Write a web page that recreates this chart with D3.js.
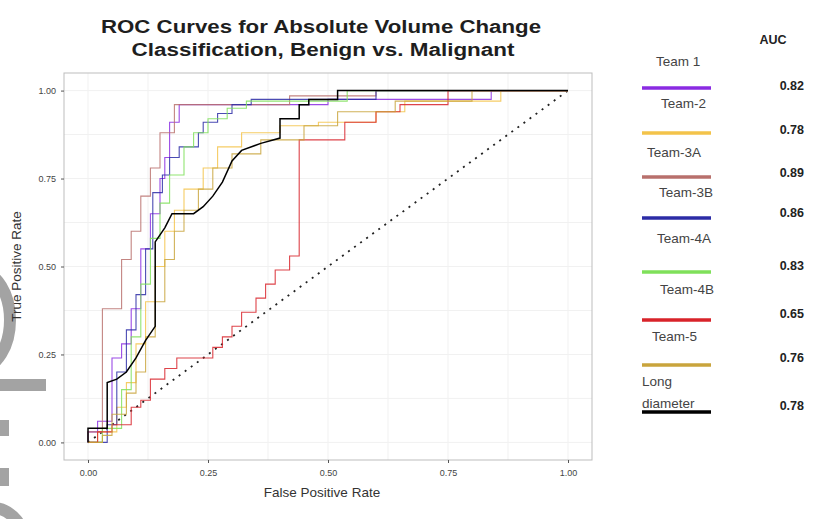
<!DOCTYPE html>
<html>
<head>
<meta charset="utf-8">
<script src="https://cdn.jsdelivr.net/npm/d3@7"></script>
<style>
  body { margin: 0; background: #fff; }
  svg { display: block; font-family: "Liberation Sans", Arial, sans-serif; }
</style>
</head>
<body>
<svg width="817" height="519"></svg>
<script>
// ---- data ----
var seriesNames = ['Team 1', 'Team-2', 'Team-3A', 'Team-3B', 'Team-4A', 'Team-4B', 'Team-5', 'Long diameter'];
var aucValues = ['0.82', '0.78', '0.89', '0.86', '0.83', '0.65', '0.76', '0.78'];
var xTicks = [0, 0.25, 0.5, 0.75, 1];
var yTicks = [0, 0.25, 0.5, 0.75, 1];

var team1 = [[0,0],[0,0.03],[0.02,0.03],[0.02,0.06],[0.05,0.06],[0.05,0.24],[0.07,0.24],[0.07,0.28],[0.09,0.28],[0.09,0.38],[0.11,0.38],[0.11,0.55],[0.13,0.55],[0.13,0.65],[0.15,0.65],[0.15,0.75],[0.16,0.75],[0.16,0.81],[0.17,0.81],[0.17,0.91],[0.19,0.91],[0.19,0.96],[0.5,0.96],[0.5,0.975],[0.84,0.975],[0.84,1],[1,1]];
var team2 = [[0,0],[0.02,0],[0.02,0.03],[0.06,0.03],[0.06,0.1],[0.08,0.1],[0.08,0.17],[0.1,0.17],[0.1,0.28],[0.12,0.28],[0.12,0.4],[0.14,0.4],[0.14,0.5],[0.16,0.5],[0.16,0.6],[0.18,0.6],[0.18,0.66],[0.2,0.66],[0.2,0.72],[0.24,0.72],[0.24,0.78],[0.27,0.78],[0.27,0.84],[0.32,0.84],[0.32,0.88],[0.4,0.88],[0.4,0.9],[0.48,0.9],[0.48,0.91],[0.6,0.91],[0.6,0.94],[0.66,0.94],[0.66,0.97],[0.86,0.97],[0.86,1],[1,1]];
var team3A = [[0,0],[0,0.03],[0.03,0.03],[0.03,0.38],[0.07,0.38],[0.07,0.52],[0.09,0.52],[0.09,0.6],[0.11,0.6],[0.11,0.7],[0.13,0.7],[0.13,0.78],[0.15,0.78],[0.15,0.88],[0.18,0.88],[0.18,0.96],[0.42,0.96],[0.42,0.985],[0.6,0.985],[0.6,1],[1,1]];
var team3B = [[0,0],[0.04,0],[0.04,0.05],[0.06,0.05],[0.06,0.2],[0.08,0.2],[0.08,0.32],[0.1,0.32],[0.1,0.42],[0.12,0.42],[0.12,0.55],[0.135,0.55],[0.135,0.71],[0.155,0.71],[0.155,0.76],[0.17,0.76],[0.17,0.81],[0.19,0.81],[0.19,0.84],[0.23,0.84],[0.23,0.88],[0.24,0.88],[0.24,0.91],[0.27,0.91],[0.27,0.935],[0.3,0.935],[0.3,0.96],[0.34,0.96],[0.34,0.975],[0.6,0.975],[0.6,1],[1,1]];
var team4A = [[0,0],[0.03,0],[0.03,0.04],[0.07,0.04],[0.07,0.15],[0.09,0.15],[0.09,0.3],[0.11,0.3],[0.11,0.45],[0.13,0.45],[0.13,0.58],[0.15,0.58],[0.15,0.68],[0.17,0.68],[0.17,0.76],[0.2,0.76],[0.2,0.84],[0.22,0.84],[0.22,0.88],[0.25,0.88],[0.25,0.92],[0.29,0.92],[0.29,0.95],[0.33,0.95],[0.33,0.97],[0.54,0.97],[0.54,1],[1,1]];
var team4B = [[0,0],[0.02,0],[0.02,0.03],[0.05,0.03],[0.05,0.05],[0.09,0.05],[0.09,0.1],[0.11,0.1],[0.11,0.12],[0.13,0.12],[0.13,0.18],[0.16,0.18],[0.16,0.21],[0.185,0.21],[0.185,0.24],[0.26,0.24],[0.26,0.27],[0.28,0.27],[0.28,0.3],[0.3,0.3],[0.3,0.33],[0.32,0.33],[0.32,0.37],[0.35,0.37],[0.35,0.41],[0.37,0.41],[0.37,0.45],[0.39,0.45],[0.39,0.49],[0.42,0.49],[0.42,0.53],[0.44,0.53],[0.44,0.86],[0.535,0.86],[0.535,0.91],[0.6,0.91],[0.6,0.94],[0.65,0.94],[0.65,0.96],[0.75,0.96],[0.75,1],[1,1]];
var team5 = [[0,0],[0.03,0],[0.03,0.02],[0.05,0.02],[0.05,0.08],[0.08,0.08],[0.08,0.14],[0.1,0.14],[0.1,0.2],[0.12,0.2],[0.12,0.3],[0.14,0.3],[0.14,0.4],[0.16,0.4],[0.16,0.52],[0.18,0.52],[0.18,0.6],[0.2,0.6],[0.2,0.66],[0.23,0.66],[0.23,0.72],[0.26,0.72],[0.26,0.78],[0.3,0.78],[0.3,0.82],[0.36,0.82],[0.36,0.86],[0.45,0.86],[0.45,0.9],[0.52,0.9],[0.52,0.94],[0.64,0.94],[0.64,0.97],[0.8,0.97],[0.8,1],[1,1]];
var longDiameter = [[0,0],[0,0.04],[0.04,0.04],[0.04,0.17],[0.06,0.18],[0.08,0.2],[0.1,0.24],[0.12,0.29],[0.14,0.33],[0.14,0.57],[0.15,0.59],[0.16,0.61],[0.175,0.65],[0.22,0.65],[0.24,0.67],[0.26,0.7],[0.28,0.74],[0.3,0.8],[0.32,0.83],[0.36,0.85],[0.4,0.865],[0.4,0.92],[0.44,0.92],[0.44,0.96],[0.46,0.96],[0.46,0.975],[0.52,0.975],[0.52,1],[1,1]];
var chance = [[0,0],[1,1]];

var seriesData = [team1, team2, team3A, team3B, team4A, team4B, team5, longDiameter];

// ---- styling / layout ----
var colors = ['#8a2be2', '#f3c34a', '#b8706c', '#2c2ca6', '#7fe05a', '#d8232a', '#c9a43c', '#000000'];
var widths = [1.1, 1.1, 1.1, 1.1, 1.1, 1.1, 1.1, 1.5];
// legend label x positions and line/label y positions
var legLabelX = [656, 661, 647, 659, 657, 660, 652, 642];
var legLabelY = [66, 108, 157, 197, 243, 294, 341, 386];
var legLineY = [88, 133, 177, 218, 272, 320, 365, 412];
var aucY = [90, 134, 177, 217, 270, 318, 362, 410];

var svg = d3.select('svg');

var panel = {left: 64, right: 592, top: 73, bottom: 460};

var x = d3.scaleLinear().domain([-0.05, 1.05]).range([panel.left, panel.right]);
var y = d3.scaleLinear().domain([-0.05, 1.05]).range([panel.bottom, panel.top]);

// grey watermark fragments on the left edge
var wm = svg.append('g').attr('fill', 'none').attr('stroke', '#a3a3a3');
wm.append('ellipse').attr('cx', -20).attr('cy', 320).attr('rx', 30).attr('ry', 48).attr('stroke-width', 12);
wm.append('ellipse').attr('cx', -8).attr('cy', 548).attr('rx', 34).attr('ry', 40).attr('stroke-width', 12);
wm.append('rect').attr('x', 0).attr('y', 379).attr('width', 46).attr('height', 12).attr('fill', '#a3a3a3').attr('stroke', 'none');
wm.append('rect').attr('x', 0).attr('y', 420).attr('width', 9).attr('height', 16).attr('fill', '#a3a3a3').attr('stroke', 'none');
wm.append('rect').attr('x', 0).attr('y', 468).attr('width', 9).attr('height', 18).attr('fill', '#a3a3a3').attr('stroke', 'none');

// faint grid
var grid = svg.append('g');
var minor = [0.125, 0.375, 0.625, 0.875];
grid.selectAll('.gx').data(xTicks.concat(minor)).enter().append('line')
  .attr('x1', function(d) { return x(d); }).attr('x2', function(d) { return x(d); })
  .attr('y1', panel.top).attr('y2', panel.bottom)
  .attr('stroke', '#f1f1f1').attr('stroke-width', 1);
grid.selectAll('.gy').data(yTicks.concat(minor)).enter().append('line')
  .attr('y1', function(d) { return y(d); }).attr('y2', function(d) { return y(d); })
  .attr('x1', panel.left).attr('x2', panel.right)
  .attr('stroke', '#f1f1f1').attr('stroke-width', 1);

// border
svg.append('rect')
  .attr('x', panel.left).attr('y', panel.top)
  .attr('width', panel.right - panel.left).attr('height', panel.bottom - panel.top)
  .attr('fill', 'none').attr('stroke', '#bdbdbd').attr('stroke-width', 1);

// axes
var xAxis = svg.append('g').attr('transform', 'translate(0,' + panel.bottom + ')')
  .call(d3.axisBottom(x).tickValues(xTicks).tickFormat(d3.format('.2f')).tickSize(3).tickPadding(7));
var yAxis = svg.append('g').attr('transform', 'translate(' + panel.left + ',0)')
  .call(d3.axisLeft(y).tickValues(yTicks).tickFormat(d3.format('.2f')).tickSize(3).tickPadding(5));
[xAxis, yAxis].forEach(function(a) {
  a.select('.domain').remove();
  a.selectAll('.tick line').attr('stroke', '#555');
  a.selectAll('.tick text').attr('fill', '#444').style('font-size', '9px');
});

// chance diagonal
var line = d3.line().x(function(d) { return x(d[0]); }).y(function(d) { return y(d[1]); });
svg.append('path').datum(chance)
  .attr('d', line).attr('fill', 'none')
  .attr('stroke', '#222').attr('stroke-width', 1.8).attr('stroke-dasharray', '2,5.5');

// ROC curves
svg.append('g').selectAll('path').data(seriesData).enter().append('path')
  .attr('d', line)
  .attr('fill', 'none')
  .attr('stroke', function(d, i) { return colors[i]; })
  .attr('stroke-width', function(d, i) { return widths[i]; })
  .attr('stroke-opacity', function(d, i) { return i === 7 ? 1 : 0.85; });

// titles
svg.append('text').attr('x', 321).attr('y', 33).attr('text-anchor', 'middle')
  .attr('textLength', 440).attr('lengthAdjust', 'spacingAndGlyphs')
  .style('font-size', '18px').style('font-weight', 'bold').attr('fill', '#1e1e1e')
  .text('ROC Curves for Absolute Volume Change');
svg.append('text').attr('x', 323).attr('y', 56).attr('text-anchor', 'middle')
  .attr('textLength', 383).attr('lengthAdjust', 'spacingAndGlyphs')
  .style('font-size', '18px').style('font-weight', 'bold').attr('fill', '#1e1e1e')
  .text('Classification, Benign vs. Malignant');

svg.append('text').attr('x', 322).attr('y', 497).attr('text-anchor', 'middle')
  .style('font-size', '13.5px').attr('fill', '#333').text('False Positive Rate');
svg.append('text').attr('transform', 'translate(21,' + ((panel.top + panel.bottom) / 2) + ') rotate(-90)')
  .attr('text-anchor', 'middle').style('font-size', '13.5px').attr('fill', '#333').text('True Positive Rate');

// legend
svg.append('text').attr('x', 773).attr('y', 44).attr('text-anchor', 'middle')
  .style('font-size', '12.5px').style('font-weight', 'bold').attr('fill', '#222').text('AUC');

var leg = svg.append('g');
seriesNames.forEach(function(name, i) {
  leg.append('line')
    .attr('x1', 642).attr('x2', 711).attr('y1', legLineY[i]).attr('y2', legLineY[i])
    .attr('stroke', colors[i]).attr('stroke-width', 3.5);
  if (name === 'Long diameter') {
    leg.append('text').attr('x', legLabelX[i]).attr('y', legLabelY[i])
      .style('font-size', '13.5px').attr('fill', '#444').text('Long');
    leg.append('text').attr('x', legLabelX[i]).attr('y', legLabelY[i] + 22)
      .style('font-size', '13.5px').attr('fill', '#444').text('diameter');
  } else {
    leg.append('text').attr('x', legLabelX[i]).attr('y', legLabelY[i])
      .style('font-size', '13.5px').attr('fill', '#444').text(name);
  }
  leg.append('text').attr('x', 804).attr('y', aucY[i]).attr('text-anchor', 'end')
    .style('font-size', '12.5px').style('font-weight', 'bold').attr('fill', '#222').text(aucValues[i]);
});
</script>
</body>
</html>
